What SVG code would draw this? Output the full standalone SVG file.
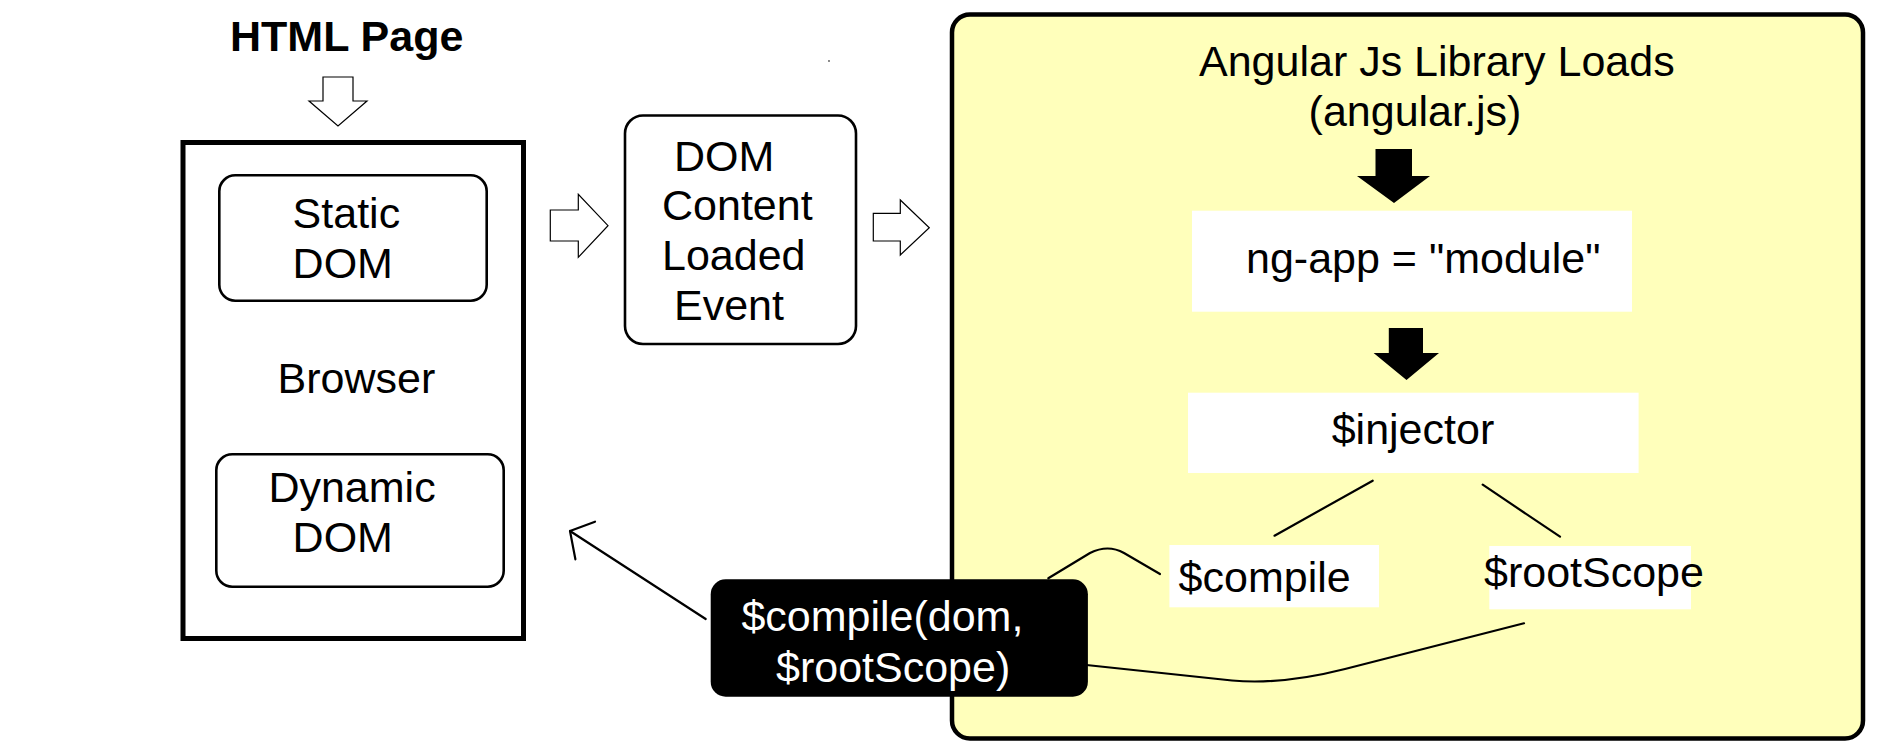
<svg xmlns="http://www.w3.org/2000/svg" width="1903" height="756" viewBox="0 0 1903 756">
<style>
  text { font-family: "Liberation Sans", Arial, sans-serif; font-size: 43px; fill: #000; }
  .bold { font-weight: bold; }
  .white { fill: #fff; }
  .hollow { fill: #fff; stroke: #000; stroke-width: 1.2; stroke-linejoin: miter; }
  .solid { fill: #000; stroke: none; }
  .rbox { fill: #fff; stroke: #000; stroke-width: 2.6; }
  .plain { fill: #fff; stroke: none; }
  .conn { fill: none; stroke: #000; stroke-width: 2.2; stroke-linecap: round; stroke-linejoin: round; }
</style>
<rect x="0" y="0" width="1903" height="756" fill="#fff"/>

<g id="angular-panel">
  <rect x="952" y="14.5" width="911" height="724" rx="18" ry="18" fill="#FFFFBB" stroke="#000" stroke-width="4.5"/>
</g>

<g id="html-page">
  <text class="bold" x="230" y="51">HTML Page</text>
</g>

<g id="browser">
  <rect x="183" y="142.5" width="340.5" height="496" fill="#fff" stroke="#000" stroke-width="5"/>
  <text x="277.5" y="393">Browser</text>
</g>

<g id="static-dom">
  <rect class="rbox" x="219.3" y="175.3" width="267.4" height="125.4" rx="16" ry="16"/>
  <text x="292.6" y="228">Static</text>
  <text x="292.6" y="278">DOM</text>
</g>

<g id="dynamic-dom">
  <rect class="rbox" x="216.3" y="454.3" width="287.4" height="132.4" rx="16" ry="16"/>
  <text x="268.4" y="502">Dynamic</text>
  <text x="292.6" y="552">DOM</text>
</g>

<g id="dom-content-loaded">
  <rect class="rbox" x="625" y="115.5" width="231" height="228.5" rx="18" ry="18"/>
  <text x="674" y="170.7">DOM</text>
  <text x="662" y="220">Content</text>
  <text x="662" y="270">Loaded</text>
  <text x="674" y="320">Event</text>
</g>

<g id="angular-loads">
  <text x="1199" y="76">Angular Js Library Loads</text>
  <text x="1308.6" y="126">(angular.js)</text>
</g>

<g id="ng-app">
  <rect class="plain" x="1192" y="210.7" width="440" height="101"/>
  <text x="1246" y="272.7">ng-app = "module"</text>
</g>

<g id="injector">
  <rect class="plain" x="1188" y="392.7" width="450.6" height="80.3"/>
  <text x="1331.7" y="444">$injector</text>
</g>

<g id="compile">
  <rect class="plain" x="1169.4" y="545" width="209.6" height="62.3"/>
  <text x="1178.6" y="591.7">$compile</text>
</g>

<g id="rootscope">
  <rect class="plain" x="1489.3" y="546" width="201.7" height="63.3"/>
  <text x="1484" y="587.3">$rootScope</text>
</g>

<g id="connectors">
  <polygon class="hollow" points="323,77 353,77 353,101 367,101 338,126 309,101 323,101"/>
  <polygon class="hollow" points="550.3,210 578.3,210 578.3,194.3 608,225.7 578.3,257.3 578.3,241 550.3,241"/>
  <polygon class="hollow" points="873.3,213.3 900.3,213.3 900.3,200 929.3,227.7 900.3,255 900.3,241 873.3,241"/>
  <polygon class="solid" points="1375.5,149 1412,149 1412,176 1430,176 1394,203 1357,176 1375.5,176"/>
  <polygon class="solid" points="1388.8,328 1423,328 1423,353 1439,353 1406.5,380 1373.6,353 1388.8,353"/>
  <line class="conn" x1="1372.7" y1="480.7" x2="1274.5" y2="535.7"/>
  <line class="conn" x1="1482.7" y1="484.7" x2="1560" y2="536.7"/>
  <path class="conn" d="M1048.3,578.3 L1090,553 Q1108,544 1124,553 L1160,574"/>
  <path class="conn" d="M1086.4,665 L1232,680.5 Q1282,685 1345,669 L1524,623.3"/>
  <line class="conn" x1="705.7" y1="619" x2="570" y2="531"/>
  <polyline class="conn" points="595,521.7 570,531 575.4,559.3"/>
</g>

<g id="compile-call">
  <rect x="710.7" y="579.3" width="377.2" height="117.4" rx="15" ry="15" fill="#000"/>
  <text class="white" x="741.4" y="630.7">$compile(dom,</text>
  <text class="white" x="776" y="682.3">$rootScope)</text>
</g>

<circle cx="829" cy="61" r="0.9" fill="#555"/>
</svg>
